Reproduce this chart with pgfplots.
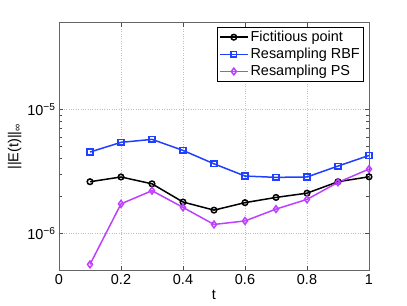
\documentclass[border=0pt]{standalone}
\usepackage{fontspec}
\setmainfont{Liberation Sans}
\usepackage{pgfplots}
\pgfplotsset{compat=1.18}
\definecolor{cblue}{RGB}{32,64,255}
\definecolor{cpurp}{RGB}{190,64,255}
\begin{document}
\begin{tikzpicture}
\useasboundingbox (-59bp,-35bp) rectangle (348bp,270.7bp);
\begin{axis}[
  scale only axis,
  width=310bp, height=248bp,
  ymode=log,
  xmin=0, xmax=1, ymin=5e-7, ymax=5e-5,
  xtick={0,0.2,0.4,0.6,0.8,1},
  xticklabels={0,0.2,0.4,0.6,0.8,1},
  ytick={1e-6,1e-5},
  yticklabels={10\textsuperscript{−6},10\textsuperscript{−5}},
  grid=major,
  major grid style={dotted, gray!50, line width=0.5bp},
  axis line style={gray!80!black, line width=0.9bp},
  tick style={gray!60!black, line width=0.5bp},
  tick align=inside,
  major tick length=4.5bp,
  minor tick length=3bp,
  font=\fontsize{14.5}{17}\selectfont,
  tick label style={font=\fontsize{14.5}{17}\selectfont},
  xlabel={t},
  ylabel={||E(t)||\textsubscript{∞}},
  xlabel style={yshift=1bp},
  ylabel style={yshift=-1bp},
  legend style={at={(rel axis cs:0.984,0.983)}, anchor=north east, draw=black, line width=0.6bp,
     font=\fontsize{14.5}{17}\selectfont, inner sep=2bp, row sep=1.2bp, cells={anchor=west}},
  legend cell align=left,
  legend image code/.code={\draw[mark repeat=2,mark phase=2] plot coordinates {(0bp,0bp) (14bp,0bp) (28bp,0bp)};},
  every axis plot/.append style={line width=1.5bp, mark size=2.8bp},
]
\addplot[black, mark=o] coordinates {
(0.1,2.61e-6) (0.2,2.85e-6) (0.3,2.51e-6) (0.4,1.79e-6) (0.5,1.54e-6)
(0.6,1.77e-6) (0.7,1.95e-6) (0.8,2.11e-6) (0.9,2.61e-6) (1.0,2.86e-6)};
\addlegendentry{Fictitious point}
\addplot[cblue, mark=square, mark options={fill=cblue!40}] coordinates {
(0.1,4.53e-6) (0.2,5.42e-6) (0.3,5.73e-6) (0.4,4.67e-6) (0.5,3.64e-6)
(0.6,2.90e-6) (0.7,2.83e-6) (0.8,2.85e-6) (0.9,3.49e-6) (1.0,4.25e-6)};
\addlegendentry{Resampling RBF}
\addplot[cpurp, mark=diamond, mark size=3.4bp] coordinates {
(0.1,5.62e-7) (0.2,1.73e-6) (0.3,2.21e-6) (0.4,1.62e-6) (0.5,1.18e-6)
(0.6,1.26e-6) (0.7,1.57e-6) (0.8,1.88e-6) (0.9,2.58e-6) (1.0,3.30e-6)};
\addlegendentry{Resampling PS}
\end{axis}
\end{tikzpicture}
\end{document}
